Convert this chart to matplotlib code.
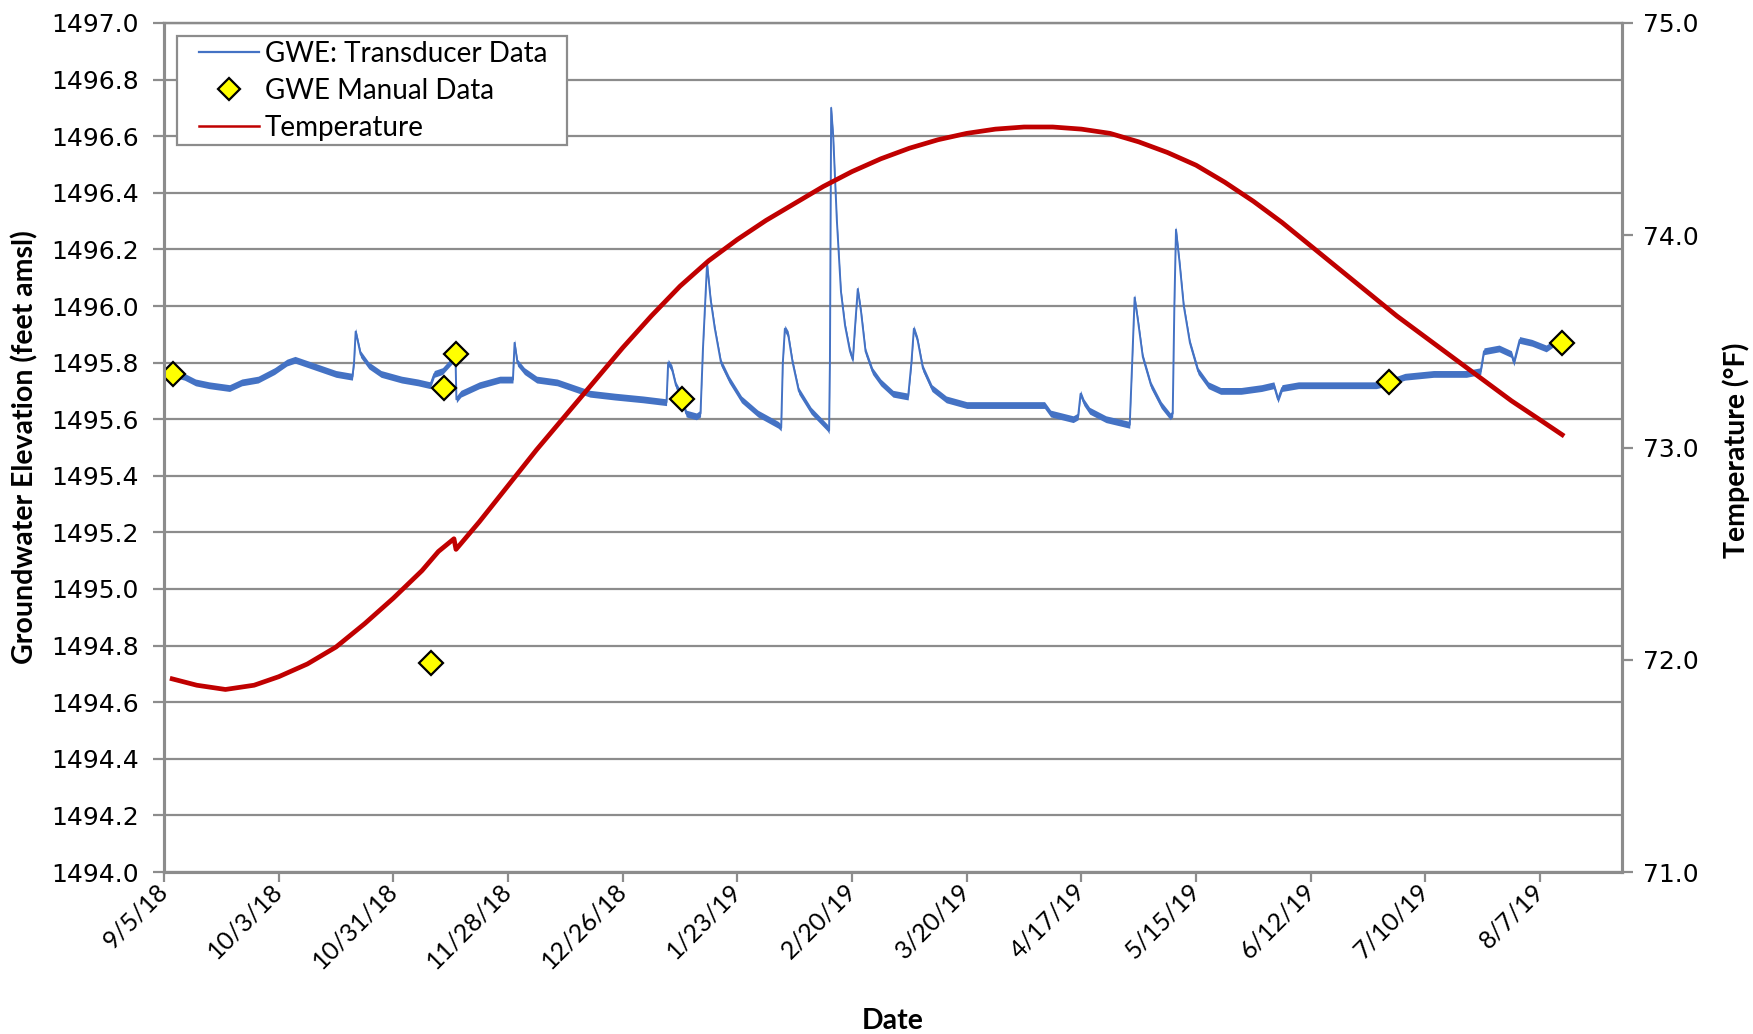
import matplotlib
matplotlib.use("Agg")
import matplotlib.pyplot as plt
import matplotlib.transforms as mtrans
from matplotlib.patches import Rectangle
from matplotlib.lines import Line2D
import numpy as np
import pandas as pd

# ---------------- data ----------------
start_date = "2018-09-05"
end_date = "2019-08-27"

# transducer groundwater elevation: day offset from 9/5/18, feet amsl
gwe_day = [2.3, 5, 7.7, 11, 16, 19, 23, 27, 30, 32, 36, 42, 46, 46.4, 46.8, 48, 50, 53, 58, 62,
           65, 66, 68, 70.5, 71.2, 71.4, 72.5, 77, 82, 85.2, 85.6, 86.3, 88, 91, 96, 100, 104,
           110, 117, 122.7, 123.1, 124, 125, 126.5, 127.5, 130, 131, 131.6, 132.6, 133.5, 134.5,
           136, 138, 141, 145, 150, 150.7, 151.1, 151.6, 152.4, 153.5, 155, 158, 162, 162.4,
           162.6, 162.9, 163.4, 164.3, 165.3, 166.3, 167.5, 168.2, 168.7, 169.4, 170.2, 171.3,
           173, 175, 178, 181.7, 182.5, 183.1, 184, 185.3, 187.5, 191, 196, 203, 210, 215,
           216.5, 222, 223.2, 223.8, 224.6, 226, 230, 235.8, 236.4, 237.0, 237.8, 239, 241,
           243.5, 245.7, 246.3, 246.7, 247.1, 248, 249, 250.5, 252.5, 255, 258, 263, 268, 271,
           272, 273, 277, 283, 290, 296, 299, 303, 310, 318, 321.5, 322.3, 326, 329, 329.6,
           331, 334, 337.5, 339.5, 341.4]
gwe_val = [1495.76, 1495.75, 1495.73, 1495.72, 1495.71, 1495.73, 1495.74, 1495.77, 1495.80,
           1495.81, 1495.79, 1495.76, 1495.75, 1495.80, 1495.91, 1495.83, 1495.79, 1495.76,
           1495.74, 1495.73, 1495.72, 1495.76, 1495.77, 1495.81, 1495.80, 1495.67, 1495.69,
           1495.72, 1495.74, 1495.74, 1495.87, 1495.80, 1495.77, 1495.74, 1495.73, 1495.71,
           1495.69, 1495.68, 1495.67, 1495.66, 1495.80, 1495.78, 1495.72, 1495.68, 1495.62,
           1495.61, 1495.62, 1495.85, 1496.15, 1496.02, 1495.92, 1495.80, 1495.74, 1495.67,
           1495.62, 1495.58, 1495.57, 1495.80, 1495.92, 1495.90, 1495.80, 1495.70, 1495.63,
           1495.57, 1495.56, 1495.80, 1496.70, 1496.60, 1496.30, 1496.05, 1495.93, 1495.84,
           1495.81, 1495.92, 1496.06, 1495.98, 1495.84, 1495.77, 1495.73, 1495.69, 1495.68,
           1495.80, 1495.92, 1495.88, 1495.78, 1495.71, 1495.67, 1495.65, 1495.65, 1495.65,
           1495.65, 1495.62, 1495.60, 1495.61, 1495.69, 1495.66, 1495.63, 1495.60, 1495.58,
           1495.80, 1496.03, 1495.95, 1495.82, 1495.72, 1495.65, 1495.61, 1495.62, 1496.00,
           1496.27, 1496.15, 1496.00, 1495.87, 1495.77, 1495.72, 1495.70, 1495.70, 1495.71,
           1495.72, 1495.67, 1495.71, 1495.72, 1495.72, 1495.72, 1495.72, 1495.73, 1495.75,
           1495.76, 1495.76, 1495.77, 1495.84, 1495.85, 1495.83, 1495.80, 1495.88, 1495.87,
           1495.85, 1495.87, 1495.87]
gwe_daily_range = 0.024  # typical daily fluctuation of the transducer record (ft)

# manual groundwater elevation measurements
manual_day = [2.3, 65.3, 68.3, 71.3, 126.4, 299.0, 341.4]
manual_val = [1495.76, 1494.74, 1495.71, 1495.83, 1495.67, 1495.73, 1495.87]

# temperature (deg F)
temp_day = [2, 8, 15, 22, 28, 35, 42, 49, 56, 63, 67, 70.8, 71.3, 77, 84, 91, 98, 105, 112,
            119, 126, 133, 140, 147, 154, 161, 168, 175, 182, 189, 196, 203, 210, 217, 224,
            231, 238, 245, 252, 259, 266, 273, 280, 287, 294, 301, 308, 315, 322, 329, 336, 341.4]
temp_val = [71.91, 71.88, 71.86, 71.88, 71.92, 71.98, 72.06, 72.17, 72.29, 72.42, 72.51,
            72.57, 72.52, 72.65, 72.82, 72.99, 73.15, 73.31, 73.47, 73.62, 73.76, 73.88,
            73.98, 74.07, 74.15, 74.23, 74.30, 74.36, 74.41, 74.45, 74.48, 74.50, 74.51,
            74.51, 74.50, 74.48, 74.44, 74.39, 74.33, 74.25, 74.16, 74.06, 73.95, 73.84,
            73.73, 73.62, 73.52, 73.42, 73.32, 73.22, 73.13, 73.06]

series_names = ["GWE: Transducer Data", "GWE Manual Data", "Temperature"]
x_tick_labels = ["9/5/18", "10/3/18", "10/31/18", "11/28/18", "12/26/18", "1/23/19",
                 "2/20/19", "3/20/19", "4/17/19", "5/15/19", "6/12/19", "7/10/19", "8/7/19"]
left_ticks = [1494.0, 1494.2, 1494.4, 1494.6, 1494.8, 1495.0, 1495.2, 1495.4, 1495.6,
              1495.8, 1496.0, 1496.2, 1496.4, 1496.6, 1496.8, 1497.0]
right_ticks = [71.0, 72.0, 73.0, 74.0, 75.0]

# ---------------- drawing ----------------
t0 = pd.Timestamp(start_date)
to_dt = lambda days: t0 + pd.to_timedelta(np.asarray(days, dtype=float), unit="D")
gwe_x = to_dt(gwe_day)
man_x = to_dt(manual_day)
tmp_x = to_dt(temp_day)
xt = pd.to_datetime(x_tick_labels, format="%m/%d/%y")

GRID = "#8c8c8c"
BLUE = "#4472C4"
RED = "#C00000"
YELLOW = "#FFFF00"

fig = plt.figure(figsize=(17.53, 10.34), dpi=100)
ax = fig.add_axes([164 / 1753, 162 / 1034, 1458 / 1753, 849 / 1034])
ax2 = ax.twinx()

gv = np.asarray(gwe_val)
ax.fill_between(gwe_x, gv - gwe_daily_range / 2, gv + gwe_daily_range / 2,
                color=BLUE, lw=0, zorder=2)
ax.plot(gwe_x, gv, color=BLUE, lw=1.4, zorder=3)
ax.plot(man_x, manual_val, ls="none", marker="D", ms=12, mfc=YELLOW, mec="black",
        mew=1.6, zorder=6)
ax2.plot(tmp_x, temp_val, color=RED, lw=3.4, zorder=4, solid_joinstyle="round")

ax.set_xlim(t0, pd.Timestamp(end_date))
ax.set_ylim(1494.0, 1497.0)
ax2.set_ylim(71.0, 75.0)

ax.set_yticks(left_ticks)
ax.set_yticklabels([f"{v:.1f}" for v in left_ticks])
ax2.set_yticks(right_ticks)
ax2.set_yticklabels([f"{v:.1f}" for v in right_ticks])
ax.set_xticks(xt)
ax.set_xticklabels(x_tick_labels, rotation=45, ha="right", va="center",
                   rotation_mode="anchor", family=["Lato", "DejaVu Sans"], fontsize=18)
shift = mtrans.ScaledTranslation(4 / 72, -1 / 72, fig.dpi_scale_trans)
for lab in ax.get_xticklabels():
    lab.set_transform(lab.get_transform() + shift)

ax.yaxis.grid(True, color=GRID, lw=1.6)
ax.set_axisbelow(True)
for a in (ax, ax2):
    for s in a.spines.values():
        s.set_color(GRID)
        s.set_linewidth(2.2)
    a.spines["top"].set_linewidth(1.6)
ax.tick_params(axis="y", direction="out", length=8, width=1.6, color=GRID, labelsize=18,
               pad=10)
ax.tick_params(axis="x", direction="out", length=7, width=1.6, color=GRID, pad=4)
ax2.tick_params(axis="y", direction="out", length=8, width=1.6, color=GRID, labelsize=18,
                pad=7)

lab_font = dict(family=["Liberation Sans Narrow", "Lato", "DejaVu Sans"], weight="bold",
                fontsize=20.5)
ax.set_ylabel("Groundwater Elevation (feet amsl)", **lab_font)
ax.yaxis.set_label_coords(-0.0864, 0.5)
ax2.set_ylabel("Temperature (°F)", **lab_font)
ax2.yaxis.set_label_coords(1.0686, 0.497)
ax.set_xlabel("Date", **lab_font)
ax.xaxis.set_label_coords(0.5, -0.160)

# legend box (Excel-style frame) and figure-level legend drawn on top of it
fig.patches.append(Rectangle((177 / 1753, 1 - 145 / 1034), 390 / 1753, 109 / 1034,
                             transform=fig.transFigure, facecolor="white", edgecolor=GRID,
                             lw=1.6, zorder=9))
handles = [Line2D([], [], color=BLUE, lw=1.6),
           Line2D([], [], ls="none", marker="D", ms=11, mfc=YELLOW, mec="black", mew=1.6),
           Line2D([], [], color=RED, lw=1.8)]
leg = fig.legend(handles, series_names, loc="upper left",
                 bbox_to_anchor=(199 / 1753, 1 - 41 / 1034), bbox_transform=fig.transFigure,
                 borderaxespad=0, borderpad=0, frameon=False,
                 prop=dict(family=["Lato", "DejaVu Sans"], size=20), handlelength=2.15,
                 handletextpad=0.22, labelspacing=0.40)
leg.set_zorder(10)

fig.savefig("out.png", dpi=100)
